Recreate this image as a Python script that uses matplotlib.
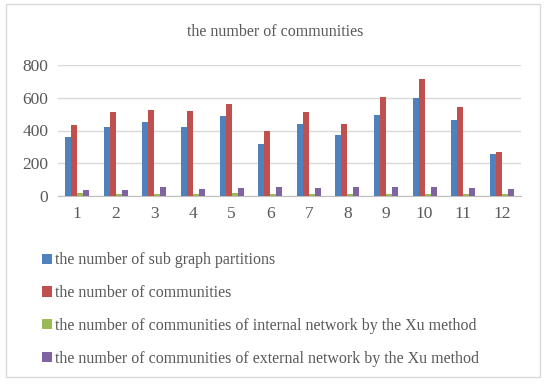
import numpy as np
import matplotlib.pyplot as plt
from matplotlib.patches import Patch, Rectangle

# values
categories = ['1', '2', '3', '4', '5', '6', '7', '8', '9', '10', '11', '12']
sub_graph = [360, 420, 450, 420, 490, 320, 438, 375, 495, 600, 465, 258]
communities = [436, 510, 527, 519, 563, 397, 516, 441, 604, 716, 543, 268]
xu_internal = [18, 15, 15, 15, 18, 14, 12, 12, 10, 12, 15, 10]
xu_external = [38, 37, 57, 45, 50, 57, 50, 57, 57, 57, 47, 40]

series_names = ['the number of sub graph partitions',
                'the number of communities',
                'the number of communities of internal network by the Xu method',
                'the number of communities of external network by the Xu method']
colors = ['#4F81BD', '#C0504D', '#9BBB59', '#8064A2']
text_color = '#595959'

plt.rcParams['font.family'] = ['Liberation Serif', 'DejaVu Serif']

fig = plt.figure(figsize=(5.5, 3.85), dpi=100)
ax = fig.add_axes([58 / 550, 1 - 196 / 385, (521 - 58) / 550, (196 - 65) / 385])

x = np.arange(len(categories))
w = 0.155
all_series = [sub_graph, communities, xu_internal, xu_external]
for i, (vals, c) in enumerate(zip(all_series, colors)):
    ax.bar(x + (i - 1.5) * w, vals, width=w, color=c, zorder=3)

ax.set_xlim(-0.5, len(categories) - 0.5)
ax.set_ylim(0, 800)
ax.set_yticks([0, 200, 400, 600, 800])
ax.set_xticks(x)
ax.set_xticklabels(categories)
ax.grid(axis='y', color='#D9D9D9', linewidth=1, zorder=0)
for s in ['top', 'right', 'left']:
    ax.spines[s].set_visible(False)
ax.spines['bottom'].set_color('#BFBFBF')
ax.tick_params(length=0, labelsize=12.5, colors=text_color, pad=7)

fig.text(0.5, 1 - 32 / 385, 'the number of communities', ha='center', va='center',
         fontsize=11.5, color=text_color)

handles = [Patch(facecolor=c) for c in colors]
fig.legend(handles, series_names, loc='upper left', bbox_to_anchor=(36 / 550, 1 - 246 / 385),
           frameon=False, fontsize=11.5, labelcolor=text_color, handlelength=0.6,
           handleheight=0.6, handletextpad=0.2, labelspacing=1.05, borderaxespad=0)

# light outer border of the chart area
fig.patches.append(Rectangle((6 / 550, 1 - 377 / 385), 534 / 550, 373 / 385,
                             transform=fig.transFigure, fill=False,
                             edgecolor='#D9D9D9', linewidth=1))

fig.savefig('out.png', dpi=100)
